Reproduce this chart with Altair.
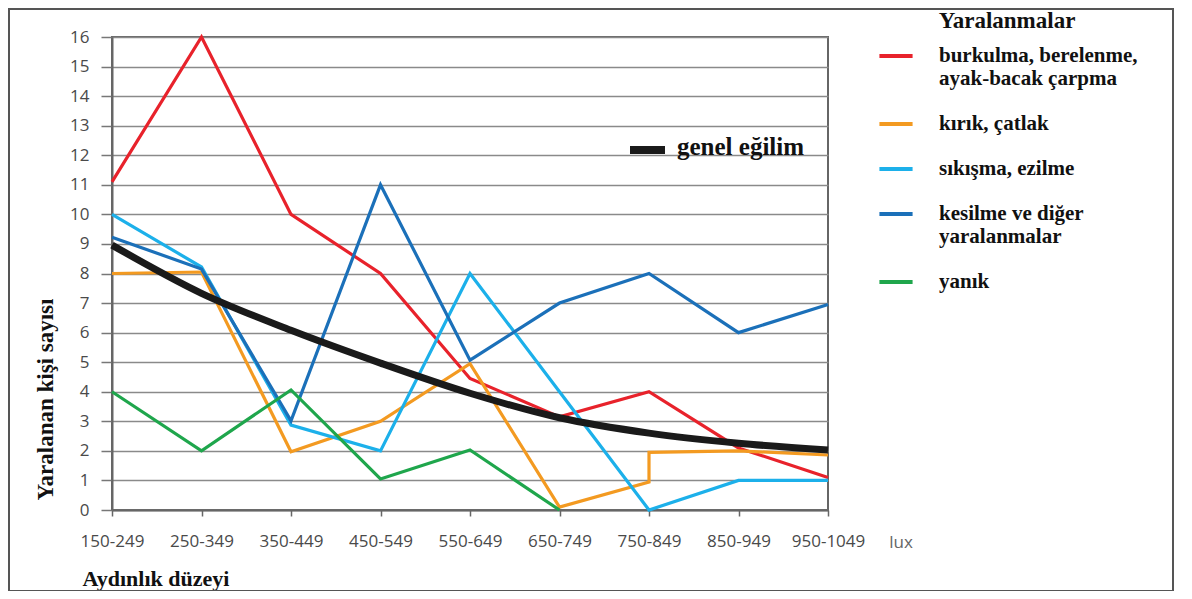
import altair as alt
import pandas as pd

categories = ["150-249", "250-349", "350-449", "450-549", "550-649",
              "650-749", "750-849", "850-949", "950-1049"]

series_names = [
    "burkulma, berelenme,| ayak-bacak çarpma",
    "kırık, çatlak",
    "sıkışma, ezilme",
    "kesilme ve diğer|yaralanmalar",
    "yanık",
]
series_colors = ["#e8222b", "#f39a21", "#1cb0ea", "#1b70b9", "#1fa64c"]

burkulma = [11.1, 16, 10, 8, 4.45, 3.15, 4, 2.1, 1.1]
kirik_x = [0, 1, 2, 3, 4, 5, 6, 6, 7, 8]
kirik = [8, 8.05, 1.97, 3, 4.95, 0.1, 0.95, 1.95, 2.0, 1.86]
sikisma = [10, 8.22, 2.87, 2, 8, 4, 0, 1, 1]
kesilme = [9.23, 8.15, 3.02, 11, 5.07, 7, 8, 6, 6.95]
yanik = [4, 2, 4.06, 1.05, 2.03, 0]
trend = [8.96, 7.33, 6.08, 4.97, 3.95, 3.12, 2.6, 2.26, 2.03]

rows = []
for name, xs, ys in [
    (series_names[0], list(range(len(burkulma))), burkulma),
    (series_names[1], kirik_x, kirik),
    (series_names[2], list(range(len(sikisma))), sikisma),
    (series_names[3], list(range(len(kesilme))), kesilme),
    (series_names[4], list(range(len(yanik))), yanik),
]:
    for i, (xv, yv) in enumerate(zip(xs, ys)):
        rows.append({"x": xv, "y": yv, "seri": name, "ord": i})
df = pd.DataFrame(rows)
trend_df = pd.DataFrame({"x": list(range(len(trend))), "y": trend})
one = pd.DataFrame({"k": [0]})

label_expr = "[" + ",".join(f"'{c}'" for c in categories) + "][datum.value]"

SERIF = "Liberation Serif"

x_enc = alt.X(
    "x:Q",
    scale=alt.Scale(domain=[0, 8], nice=False, zero=False),
    axis=alt.Axis(
        values=list(range(9)), labelExpr=label_expr, grid=False, labelOverlap=False,
        labelFlush=False,
        title="Aydınlık düzeyi", titleFont=SERIF, titleFontWeight="bold",
        titleFontSize=22, titleColor="#111", titleX=-30, titleY=68,
        titleAlign="left", titleBaseline="middle", titleAnchor="start",
        labelFont="Open Sans", labelFontSize=17, labelColor="#4a4a4a",
        labelPadding=17, tickSize=6, tickColor="#666", tickWidth=1.5,
        domainColor="#666", domainWidth=2,
    ),
)
y_enc = alt.Y(
    "y:Q",
    scale=alt.Scale(domain=[0, 16], nice=False),
    axis=alt.Axis(
        values=list(range(17)), grid=True, gridColor="#8a8a8a", gridWidth=1.5,
        labelOverlap=False, labelFlush=False,
        title="Yaralanan kişi sayısı", titleFont=SERIF,
        titleFontWeight="bold", titleFontSize=23, titleColor="#111",
        titleAngle=-90, titleX=-67, titleY=463, titleAlign="left",
        titleBaseline="middle",
        labelFont="Open Sans", labelFontSize=17, labelColor="#4a4a4a",
        labelPadding=12, tickSize=11, tickColor="#777", tickWidth=1.5,
        domainColor="#666", domainWidth=2,
    ),
)

lines = alt.Chart(df).mark_line(strokeWidth=3.2).encode(
    x=x_enc,
    y=y_enc,
    color=alt.Color(
        "seri:N",
        scale=alt.Scale(domain=series_names, range=series_colors),
        legend=alt.Legend(
            title="Yaralanmalar", orient="none", legendX=765, legendY=-27,
            titleFont=SERIF, titleFontWeight="bold", titleFontSize=23,
            titleColor="#111", titleAnchor="middle", titlePadding=4,
            labelFont=SERIF, labelFontWeight="bold", labelFontSize=21,
            labelColor="#111", labelExpr="split(datum.label, '|')", labelLimit=400,
            labelOffset=24, symbolType="stroke", symbolStrokeWidth=4,
            symbolSize=1100, rowPadding=16, padding=0,
        ),
    ),
    order="ord:Q",
)

trend_line = alt.Chart(trend_df).mark_line(
    strokeWidth=7, color="#1a1a1a", interpolate="monotone"
).encode(x=x_enc, y=y_enc)

frame = alt.Chart(one).mark_rect(
    fill="transparent", stroke="#555", strokeWidth=2
).encode(
    x=alt.value(-103), x2=alt.value(1061), y=alt.value(-28), y2=alt.value(554)
)

ann_rule = alt.Chart(one).mark_rule(strokeWidth=8, color="#1a1a1a").encode(
    x=alt.value(518), x2=alt.value(553), y=alt.value(113)
)
ann_text = alt.Chart(one).mark_text(
    text="genel eğilim", font=SERIF, fontWeight="bold", fontSize=25,
    align="left", baseline="middle", fill="#111"
).encode(x=alt.value(565), y=alt.value(110))

lux = alt.Chart(one).mark_text(
    text="lux", font="Open Sans", fontSize=17, align="center", baseline="middle",
    fill="#666"
).encode(x=alt.value(789), y=alt.value(506))

chart = alt.layer(frame, lines, trend_line, ann_rule, ann_text, lux).properties(
    width=716, height=473,
    padding={"left": 104, "top": 29, "right": 356, "bottom": 81},
    autosize=alt.AutoSizeParams(type="none"),
    background="white",
).configure_view(stroke="#666", strokeWidth=2).configure_legend(
    labelFont=SERIF, titleFont=SERIF
)

chart.save("out.html", embed_options={"renderer": "svg", "actions": False})
